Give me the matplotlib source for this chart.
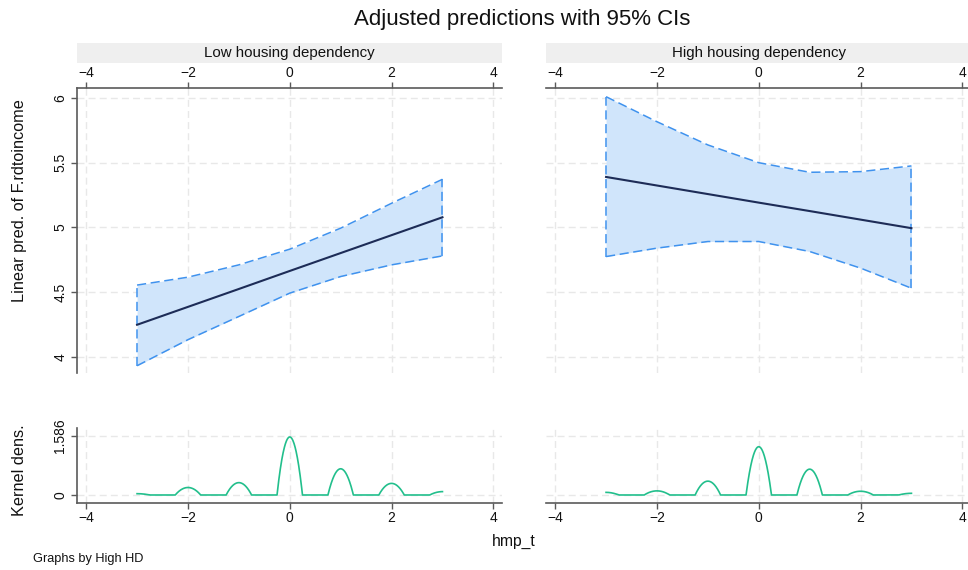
import numpy as np
import matplotlib
matplotlib.use("Agg")
import matplotlib.pyplot as plt

plt.rcParams['font.family'] = ['Liberation Sans', 'DejaVu Sans']

# ---- data ----
x_at = [-3, -2, -1, 0, 1, 2, 3]
panels = ["Low housing dependency", "High housing dependency"]

low_mean = [4.249, 4.387, 4.525, 4.664, 4.802, 4.940, 5.078]
low_lo = [3.933, 4.134, 4.313, 4.493, 4.621, 4.711, 4.780]
low_hi = [4.555, 4.616, 4.711, 4.832, 4.994, 5.186, 5.371]

high_mean = [5.389, 5.323, 5.257, 5.191, 5.126, 5.060, 4.994]
high_lo = [4.775, 4.840, 4.891, 4.891, 4.814, 4.686, 4.531]
high_hi = [6.008, 5.815, 5.636, 5.499, 5.425, 5.430, 5.474]

# kernel density peak heights at each integer value of hmp_t
low_dens_peaks = [0.035, 0.20, 0.33, 1.55, 0.70, 0.31, 0.09]
high_dens_peaks = [0.07, 0.11, 0.37, 1.29, 0.69, 0.10, 0.045]
kern_halfwidth = 0.25
dens_max_label = 1.586

xticks = [-4, -2, 0, 2, 4]
xticklabels = ["\u22124", "\u22122", "0", "2", "4"]
yticks = [4, 4.5, 5, 5.5, 6]
yticklabels = ["4", "4.5", "5", "5.5", "6"]

# ---- style ----
W, H = 968, 570
fig = plt.figure(figsize=(W / 100, H / 100), dpi=100)

band_fill = "#d0e5fb"
band_edge = "#3f92ee"
mean_col = "#1d2c57"
kern_col = "#22bf8c"
spine_col = "#5a5a5a"
grid_col = "#e8e8e8"
txt_col = "#111111"
xlim = (-4.18, 4.17)
tick_fs = 10


def fr(x0, y0, x1, y1):
    return [x0 / W, 1 - y1 / H, (x1 - x0) / W, (y1 - y0) / H]


def kde_curve(peaks, h):
    xs = np.linspace(-3, 3, 1201)
    ys = np.zeros_like(xs)
    for c, p in zip(x_at, peaks):
        u = (xs - c) / h
        ys += p * np.clip(1 - u ** 2, 0, None)
    return xs, ys


def style_grid(ax, ygrid):
    for xv in xticks:
        ax.axvline(xv, color=grid_col, lw=1.0, ls=(0, (5, 3)), zorder=0)
    for yv in ygrid:
        ax.axhline(yv, color=grid_col, lw=1.0, ls=(0, (5, 3)), zorder=0)


data = [(low_mean, low_lo, low_hi, low_dens_peaks),
        (high_mean, high_lo, high_hi, high_dens_peaks)]
lefts = [77, 546]

for i, (m, lo, hi, dpk) in enumerate(data):
    x0 = lefts[i]
    x1 = x0 + 425
    # strip
    sax = fig.add_axes(fr(x0, 43, x1, 63))
    sax.set_facecolor("#efefef")
    sax.set_xticks([]); sax.set_yticks([])
    for s in sax.spines.values():
        s.set_visible(False)
    sax.text(0.5, 0.5, panels[i], ha="center", va="center", fontsize=10.8, color=txt_col,
             transform=sax.transAxes)

    # main panel
    ax = fig.add_axes(fr(x0, 88, x1, 373))
    ax.set_xlim(*xlim)
    ax.set_ylim(3.877, 6.075)
    style_grid(ax, yticks)
    ax.fill_between(x_at, lo, hi, color=band_fill, lw=0, zorder=1)
    dash = (0, (6, 3))
    ax.plot(x_at, lo, color=band_edge, lw=1.1, ls=dash, zorder=2)
    ax.plot(x_at, hi, color=band_edge, lw=1.1, ls=dash, zorder=2)
    ax.plot([x_at[0], x_at[0]], [lo[0], hi[0]], color=band_edge, lw=1.1, ls=dash, zorder=2)
    ax.plot([x_at[-1], x_at[-1]], [lo[-1], hi[-1]], color=band_edge, lw=1.1, ls=dash, zorder=2)
    ax.plot(x_at, m, color=mean_col, lw=1.5, zorder=3)
    ax.xaxis.tick_top()
    ax.set_xticks(xticks)
    ax.set_xticklabels(xticklabels, fontsize=tick_fs, color=txt_col)
    ax.tick_params(axis="x", direction="out", length=4, width=1, color=spine_col, pad=1.5)
    for s in ["bottom", "right"]:
        ax.spines[s].set_visible(False)
    ax.spines["top"].set_color(spine_col)
    ax.spines["top"].set_linewidth(1.2)
    if i == 0:
        ax.set_yticks(yticks)
        ax.set_yticklabels(yticklabels, fontsize=tick_fs, rotation=90, va="center", color=txt_col)
        ax.tick_params(axis="y", direction="out", length=4, width=1, color=spine_col, pad=3)
        ax.spines["left"].set_color(spine_col)
        ax.spines["left"].set_linewidth(1.2)
    else:
        ax.set_yticks([])
        ax.spines["left"].set_visible(False)

    # density panel
    dax = fig.add_axes(fr(x0, 428, x1, 503))
    dax.set_xlim(*xlim)
    dax.set_ylim(-0.214, 1.79)
    style_grid(dax, [0, dens_max_label])
    xs, ys = kde_curve(dpk, kern_halfwidth)
    dax.plot(xs, ys, color=kern_col, lw=1.2, zorder=3)
    dax.set_xticks(xticks)
    dax.set_xticklabels(xticklabels, fontsize=tick_fs, color=txt_col)
    dax.tick_params(axis="x", direction="out", length=4, width=1, color=spine_col, pad=2)
    for s in ["top", "right"]:
        dax.spines[s].set_visible(False)
    dax.spines["bottom"].set_color(spine_col)
    dax.spines["bottom"].set_linewidth(1.2)
    if i == 0:
        dax.set_yticks([0, dens_max_label])
        dax.set_yticklabels(["0", "1.586"], fontsize=tick_fs, rotation=90, va="center", color=txt_col)
        dax.tick_params(axis="y", direction="out", length=4, width=1, color=spine_col, pad=3)
        dax.spines["left"].set_color(spine_col)
        dax.spines["left"].set_linewidth(1.2)
    else:
        dax.set_yticks([])
        dax.spines["left"].set_visible(False)

fig.text(522 / W, 1 - 19 / H, "Adjusted predictions with 95% CIs", ha="center", va="center",
         fontsize=16, color=txt_col)
fig.text(20 / W, 1 - 201 / H, "Linear pred. of F.rdtoincome", ha="center", va="center",
         rotation=90, fontsize=11.7, color=txt_col)
fig.text(20 / W, 1 - 470 / H, "Kernel dens.", ha="center", va="center",
         rotation=90, fontsize=11.7, color=txt_col)
fig.text(514 / W, 1 - 541 / H, "hmp_t", ha="center", va="center", fontsize=11.3, color=txt_col)
fig.text(33 / W, 1 - 559 / H, "Graphs by High HD", ha="left", va="center", fontsize=9.2,
         color=txt_col)

fig.savefig("out.png", dpi=100, facecolor="white")
